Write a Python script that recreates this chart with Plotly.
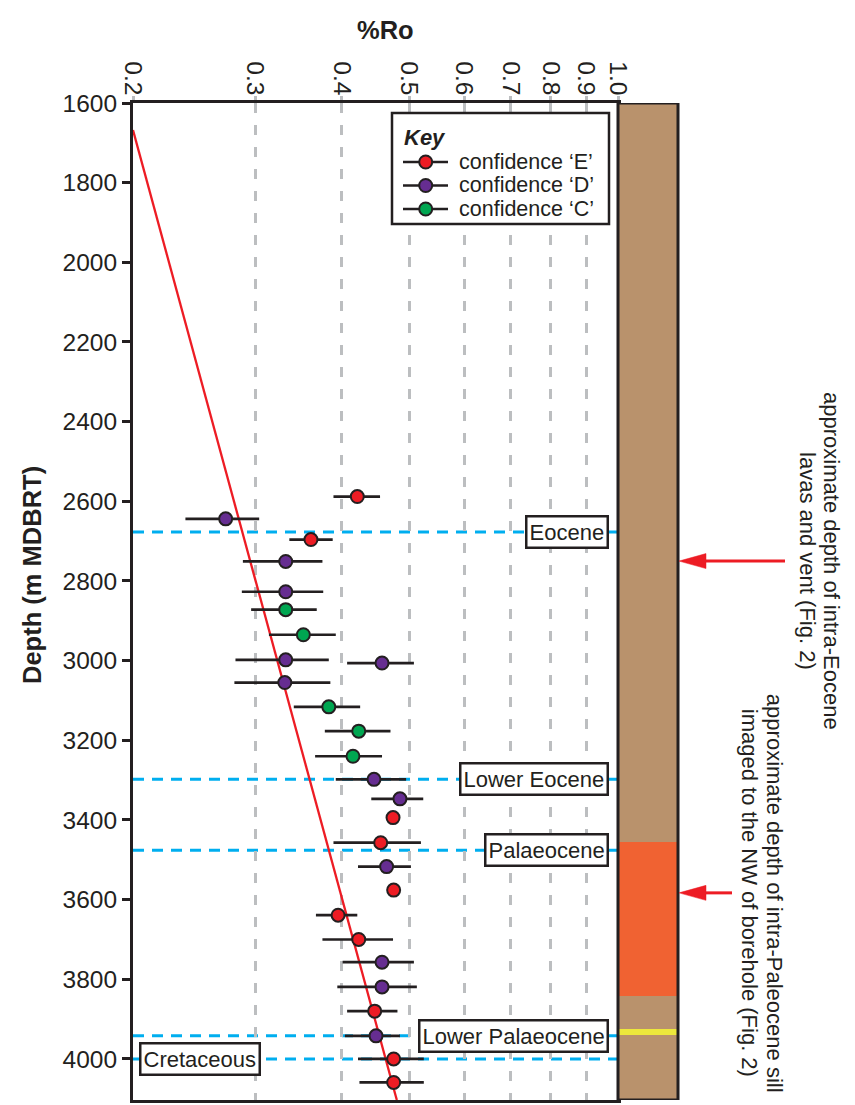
import numpy as np
import plotly.graph_objects as go

W, H = 855, 1105
FONT = "Liberation Sans, Arial, Helvetica, sans-serif"
INK = "#231f20"
RED = "#ed1c24"
PURPLE = "#662d91"
GREEN = "#00a651"
GRID = "#bcbec0"
BLUE = "#00aeef"

# ---------------- data ----------------
ro_ticks = [0.2, 0.3, 0.4, 0.5, 0.6, 0.7, 0.8, 0.9, 1.0]
ro_tick_labels = ["0.2", "0.3", "0.4", "0.5", "0.6", "0.7", "0.8", "0.9", "1.0"]
depth_ticks = [1600, 1800, 2000, 2200, 2400, 2600, 2800, 3000, 3200, 3400, 3600, 3800, 4000]
depth_range = [4103, 1600]
ro_range = [0.2, 1.0]

# confidence 'E'
E_depth = [2588, 2696, 3394, 3457, 3576, 3639, 3700, 3880, 4000, 4059]
E_ro = [0.421, 0.361, 0.474, 0.455, 0.475, 0.395, 0.423, 0.446, 0.475, 0.475]
E_lo = [0.389, 0.336, 0.474, 0.389, 0.475, 0.367, 0.375, 0.407, 0.422, 0.424]
E_hi = [0.454, 0.388, 0.474, 0.520, 0.475, 0.421, 0.474, 0.481, 0.525, 0.525]

# confidence 'D'
D_depth = [2644, 2751, 2827, 2998, 3006, 3055, 3298, 3347, 3517, 3757, 3819, 3942]
D_ro = [0.272, 0.332, 0.332, 0.332, 0.457, 0.331, 0.445, 0.485, 0.464, 0.457, 0.457, 0.448]
D_lo = [0.238, 0.288, 0.287, 0.281, 0.407, 0.280, 0.392, 0.441, 0.422, 0.401, 0.394, 0.404]
D_hi = [0.304, 0.375, 0.376, 0.383, 0.508, 0.385, 0.495, 0.524, 0.503, 0.508, 0.513, 0.485]

# confidence 'C'
C_depth = [2872, 2935, 3116, 3177, 3240]
C_ro = [0.332, 0.352, 0.383, 0.423, 0.415]
C_lo = [0.296, 0.314, 0.341, 0.378, 0.366]
C_hi = [0.368, 0.392, 0.425, 0.470, 0.457]

# trend line
trend_depth = [1668, 4103]
trend_ro = [0.2, 0.48]

# formation tops
form_names = ["Eocene", "Lower Eocene", "Palaeocene", "Lower Palaeocene", "Cretaceous"]
form_depth = [2677, 3298, 3476, 3942, 4000]
form_side = ["right", "right", "right", "right", "left"]

# lithology column
lith_top = [1600, 3455, 3925]
lith_base = [4103, 3842, 3940]
lith_color = ["#b9926c", "#f06232", "#ede83c"]

# annotations with arrows
note_depth = [2750, 3583]
note_lines = [["approximate depth of intra-Eocene", "lavas and vent (Fig. 2)"],
              ["approximate depth of intra-Paleocene sill", "imaged to the NW of borehole (Fig. 2)"]]

legend_labels = ["confidence \u2018E\u2019", "confidence \u2018D\u2019", "confidence \u2018C\u2019"]
legend_colors = [RED, PURPLE, GREEN]

# ---------------- layout geometry (pixels) ----------------
PL, PR, PT, PB = 133, 618, 103, 1100
COL_R = 678


def fx(px):
    return px / W


def fy(py):
    return 1 - py / H


fig = go.Figure()

fig.add_trace(go.Scatter(x=trend_ro, y=trend_depth, mode="lines",
                         line=dict(color=RED, width=2.3), hoverinfo="skip"))

for dep, ro, lo, hi, col in [(E_depth, E_ro, E_lo, E_hi, RED),
                             (D_depth, D_ro, D_lo, D_hi, PURPLE),
                             (C_depth, C_ro, C_lo, C_hi, GREEN)]:
    ro_a = np.array(ro)
    fig.add_trace(go.Scatter(
        x=ro, y=dep, mode="markers",
        marker=dict(size=13, color=col, line=dict(color=INK, width=2)),
        error_x=dict(type="data", symmetric=False,
                     array=list(np.array(hi) - ro_a),
                     arrayminus=list(ro_a - np.array(lo)),
                     thickness=2.7, width=0, color=INK),
        showlegend=False))

shapes = []
annotations = []

# formation tops
for name, d, side in zip(form_names, form_depth, form_side):
    shapes.append(dict(type="line", xref="paper", yref="y", x0=fx(PL), x1=fx(PR), y0=d, y1=d,
                       line=dict(color=BLUE, width=3, dash="11px,8px"), layer="between"))
    if side == "right":
        annotations.append(dict(text=name, xref="paper", yref="y", x=fx(609), y=d,
                                xanchor="right", yanchor="middle", showarrow=False,
                                font=dict(family=FONT, size=22, color=INK),
                                bgcolor="white", bordercolor=INK, borderwidth=2.5, borderpad=2))
    else:
        annotations.append(dict(text=name, xref="paper", yref="y", x=fx(139), y=d,
                                xanchor="left", yanchor="middle", showarrow=False,
                                font=dict(family=FONT, size=22, color=INK),
                                bgcolor="white", bordercolor=INK, borderwidth=2.5, borderpad=2))

# lithology column
for t, b, c in zip(lith_top, lith_base, lith_color):
    shapes.append(dict(type="rect", xref="paper", yref="y", x0=fx(PR), x1=fx(COL_R), y0=t, y1=b,
                       fillcolor=c, line=dict(width=0), layer="above"))
shapes.append(dict(type="rect", xref="paper", yref="y", x0=fx(PR), x1=fx(COL_R),
                   y0=depth_range[1], y1=depth_range[0],
                   line=dict(color=INK, width=3), fillcolor="rgba(0,0,0,0)", layer="above"))

# arrows and notes
m_per_px = (depth_range[0] - depth_range[1]) / (PB - PT)
tails = [785, 732]
tip = 679
head_len, head_hw = 27, 7.5
for d, tail, lines in zip(note_depth, tails, note_lines):
    shapes.append(dict(type="line", xref="paper", yref="y", x0=fx(tip + head_len - 2), x1=fx(tail),
                       y0=d, y1=d, line=dict(color=RED, width=3), layer="above"))
    path = "M {:.5f},{:.2f} L {:.5f},{:.2f} L {:.5f},{:.2f} Z".format(
        fx(tip), d, fx(tip + head_len), d - head_hw * m_per_px, fx(tip + head_len), d + head_hw * m_per_px)
    shapes.append(dict(type="path", xref="paper", yref="y", path=path,
                       fillcolor=RED, line=dict(color=RED, width=0.5), layer="above"))

note_x = [[832, 808], [774, 749]]
for d, lines, xs in zip(note_depth, note_lines, note_x):
    for txt, xpx in zip(lines, xs):
        annotations.append(dict(text=txt, xref="paper", yref="y", x=fx(xpx), y=d,
                                xanchor="center", yanchor="middle", textangle=90, showarrow=False,
                                font=dict(family=FONT, size=22, color=INK)))

# manual legend ("Key")
shapes.append(dict(type="rect", xref="paper", yref="paper", x0=fx(392), x1=fx(609),
                   y0=fy(224), y1=fy(113), fillcolor="white", line=dict(color=INK, width=2.5),
                   layer="above"))
annotations.append(dict(text="<b><i>Key</i></b>", xref="paper", yref="paper", x=fx(402), y=fy(137.5),
                        xanchor="left", yanchor="middle", showarrow=False,
                        font=dict(family=FONT, size=22, color=INK)))
row_y = [162, 185.5, 209]
for lab, col, ry in zip(legend_labels, legend_colors, row_y):
    shapes.append(dict(type="line", xref="paper", yref="paper", x0=fx(403), x1=fx(448),
                       y0=fy(ry), y1=fy(ry), line=dict(color=INK, width=2.5), layer="above"))
    shapes.append(dict(type="circle", xref="paper", yref="paper", xsizemode="pixel", ysizemode="pixel",
                       xanchor=fx(425.7), yanchor=fy(ry), x0=-6.5, x1=6.5, y0=-6.5, y1=6.5,
                       fillcolor=col, line=dict(color=INK, width=2), layer="above"))
    annotations.append(dict(text=lab, xref="paper", yref="paper", x=fx(457), y=fy(ry),
                            xanchor="left", yanchor="middle", showarrow=False,
                            font=dict(family=FONT, size=21.5, color=INK)))

# axis titles
annotations.append(dict(text="<b>%Ro</b>", xref="paper", yref="paper", x=fx(385), y=fy(30),
                        xanchor="center", yanchor="middle", showarrow=False,
                        font=dict(family=FONT, size=25.5, color=INK)))
annotations.append(dict(text="<b>Depth (m MDBRT)</b>", xref="paper", yref="paper", x=fx(32), y=fy(575),
                        xanchor="center", yanchor="middle", textangle=-90, showarrow=False,
                        font=dict(family=FONT, size=25.5, color=INK)))

fig.update_layout(
    template="none",
    width=W, height=H,
    margin=dict(l=0, r=0, t=0, b=0),
    paper_bgcolor="white", plot_bgcolor="white",
    showlegend=False,
    font=dict(family=FONT, color=INK),
    shapes=shapes, annotations=annotations,
    xaxis=dict(type="log", range=[np.log10(ro_range[0]), np.log10(ro_range[1])],
               domain=[fx(PL), fx(PR)], side="top", anchor="y",
               tickvals=ro_ticks, ticktext=ro_tick_labels, tickangle=90,
               ticks="outside", ticklen=4, tickwidth=2.5, tickcolor=GRID,
               ticklabelstandoff=-8,
               showgrid=True, gridcolor=GRID, gridwidth=2.5, griddash="10px,12px",
               showline=True, linecolor=INK, linewidth=3, mirror=True,
               zeroline=False, automargin=False,
               tickfont=dict(family=FONT, size=24.5, color=INK)),
    yaxis=dict(range=depth_range, domain=[fy(PB), fy(PT)], anchor="x",
               tickvals=depth_ticks, ticks="outside", ticklen=8, tickwidth=2.5, tickcolor=INK,
               showgrid=False, showline=True, linecolor=INK, linewidth=3, mirror=True,
               zeroline=False, automargin=False,
               tickfont=dict(family=FONT, size=24.5, color=INK)),
)

fig.write_html("out.html",
               config={"displayModeBar": False},
               post_script="document.body.style.margin='0px';document.body.style.overflow='hidden';")
